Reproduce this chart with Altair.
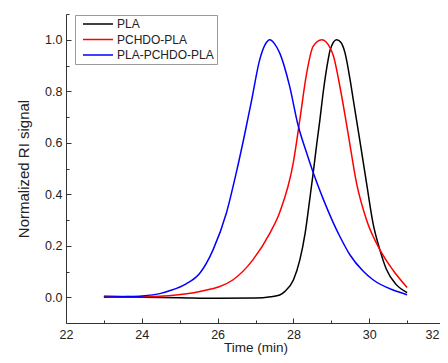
import altair as alt
import pandas as pd

series = ["PLA", "PCHDO-PLA", "PLA-PCHDO-PLA"]
colors = ["#000000", "#ff0000", "#0000ff"]

pla_t = [23.0, 24.0, 25.0, 26.0, 27.0, 27.4, 27.64, 27.77, 28.0, 28.17, 28.31, 28.44, 28.52,
         28.62, 28.7, 28.79, 28.92, 28.97, 29.14, 29.25, 29.36, 29.49, 29.58, 29.75, 29.93, 30.1,
         30.28, 30.45, 30.71, 31.0]
pla_v = [0.002, 0.0, -0.002, -0.004, -0.003, 0.002, 0.009, 0.022, 0.067, 0.145, 0.249, 0.39, 0.48,
         0.6, 0.69, 0.8, 0.925, 0.96, 1.0, 0.99, 0.95, 0.85, 0.767, 0.611, 0.443, 0.288,
         0.185, 0.11, 0.05, 0.018]

pchdo_t = [23.0, 23.5, 24.0, 24.7, 25.53, 26.4, 26.93, 27.38, 27.64, 28.0, 28.17, 28.35, 28.52,
           28.75, 28.97, 29.05, 29.25, 29.45, 29.67, 29.93, 30.28, 30.63, 31.0]
pchdo_v = [0.005, 0.003, 0.002, 0.006, 0.022, 0.067, 0.145, 0.249, 0.33, 0.525, 0.69, 0.87, 0.974,
           1.0, 0.968, 0.94, 0.8, 0.63, 0.44, 0.3, 0.185, 0.105, 0.038]

tri_t = [23.0, 23.5, 24.0, 24.5, 24.73, 25.17, 25.53, 25.88, 26.23, 26.49, 26.72, 26.9, 27.11,
         27.25, 27.38, 27.5, 27.64, 27.9, 28.12, 28.35, 28.52, 28.79, 29.05, 29.23, 29.49,
         29.85, 30.1, 30.63, 31.0]
tri_v = [0.0, 0.002, 0.005, 0.015, 0.025, 0.052, 0.093, 0.184, 0.326, 0.482, 0.637, 0.767, 0.922,
         0.98, 1.0, 0.985, 0.948, 0.82, 0.67, 0.56, 0.485, 0.38, 0.29, 0.235, 0.165,
         0.1, 0.068, 0.028, 0.01]

x_major = [22, 24, 26, 28, 30, 32]
x_labels_centered = [22, 24, 26, 28, 30]
x_label_edge = [32]
x_minor = [23, 25, 27, 29, 31]
y_major = [0.0, 0.2, 0.4, 0.6, 0.8, 1.0]
y_minor = [-0.1, 0.1, 0.3, 0.5, 0.7, 0.9, 1.1]

rows = []
for name, ts, vs in zip(series, [pla_t, pchdo_t, tri_t], [pla_v, pchdo_v, tri_v]):
    for t, v in zip(ts, vs):
        rows.append({"series": name, "t": t, "v": v})
df = pd.DataFrame(rows)

font = "Liberation Sans"
xs = alt.Scale(domain=[22, 32], nice=False, zero=False)
ys = alt.Scale(domain=[-0.1, 1.1], nice=False, zero=False)
axis_color = "#333333"
label_color = "#222222"

base = alt.Chart(df)

main = base.mark_line(strokeWidth=1.5, interpolate="monotone").encode(
    x=alt.X("t:Q", scale=xs, axis=alt.Axis(
        orient="bottom", values=x_labels_centered, ticks=False, grid=False, title="Time (min)",
        labelFont=font, labelFontSize=12.5, labelColor=label_color, labelPadding=5,
        titleFont=font, titleFontSize=13.5, titleFontWeight="normal", titleColor=label_color,
        titlePadding=0, domainColor=axis_color, domainWidth=1, labelFlush=False)),
    y=alt.Y("v:Q", scale=ys, axis=alt.Axis(
        orient="left", values=y_major, format=".1f", ticks=False, grid=False,
        title="Normalized RI signal",
        labelFont=font, labelFontSize=12.5, labelColor=label_color, labelPadding=4,
        titleFont=font, titleFontSize=15, titleFontWeight="normal", titleColor=label_color,
        titlePadding=13, domainColor=axis_color, domainWidth=1, labelFlush=False)),
    color=alt.Color("series:N", scale=alt.Scale(domain=series, range=colors), title=None,
                    legend=alt.Legend(orient="none", legendX=9, legendY=1,
                                      strokeColor="#999999", fillColor="white", padding=3,
                                      symbolType="M-1,0H5", symbolSize=100, symbolStrokeWidth=1.5,
                                      symbolOffset=4,
                                      labelFont=font, labelFontSize=12, labelColor=label_color,
                                      labelOffset=23, rowPadding=3.5)),
)

edge = base.mark_line(opacity=0).encode(
    x=alt.X("t:Q", scale=xs, axis=alt.Axis(
        orient="bottom", values=x_label_edge, ticks=False, domain=False, grid=False,
        labelFont=font, labelFontSize=12.5, labelColor=label_color, labelPadding=5,
        labelAlign="right", labelOffset=-6, labelFlush=False, title="")),
    y=alt.Y("v:Q", scale=ys, axis=None),
)

major = base.mark_line(opacity=0).encode(
    x=alt.X("t:Q", scale=xs, axis=alt.Axis(
        orient="bottom", values=x_major, labels=False, domain=False, grid=False,
        tickSize=5, offset=-5, tickColor=axis_color, title="")),
    y=alt.Y("v:Q", scale=ys, axis=alt.Axis(
        orient="left", values=y_major, labels=False, domain=False, grid=False,
        tickSize=5, offset=-5, tickColor=axis_color, title="")),
)

minor = base.mark_line(opacity=0).encode(
    x=alt.X("t:Q", scale=xs, axis=alt.Axis(
        orient="bottom", values=x_minor, labels=False, domain=False, grid=False,
        tickSize=3, offset=-3, tickColor=axis_color, title="")),
    y=alt.Y("v:Q", scale=ys, axis=alt.Axis(
        orient="left", values=y_minor, labels=False, domain=False, grid=False,
        tickSize=3, offset=-3, tickColor=axis_color, title="")),
)

chart = alt.layer(main, major, minor, edge).resolve_axis(
    x="independent", y="independent"
).properties(
    width=379, height=309,
    autosize=alt.AutoSizeParams(type="none"),
    padding={"left": 58, "top": 6, "right": -5, "bottom": 32},
    background="white",
).configure_view(stroke="transparent")

chart.save("out.html", embed_options={"renderer": "svg", "actions": False})
